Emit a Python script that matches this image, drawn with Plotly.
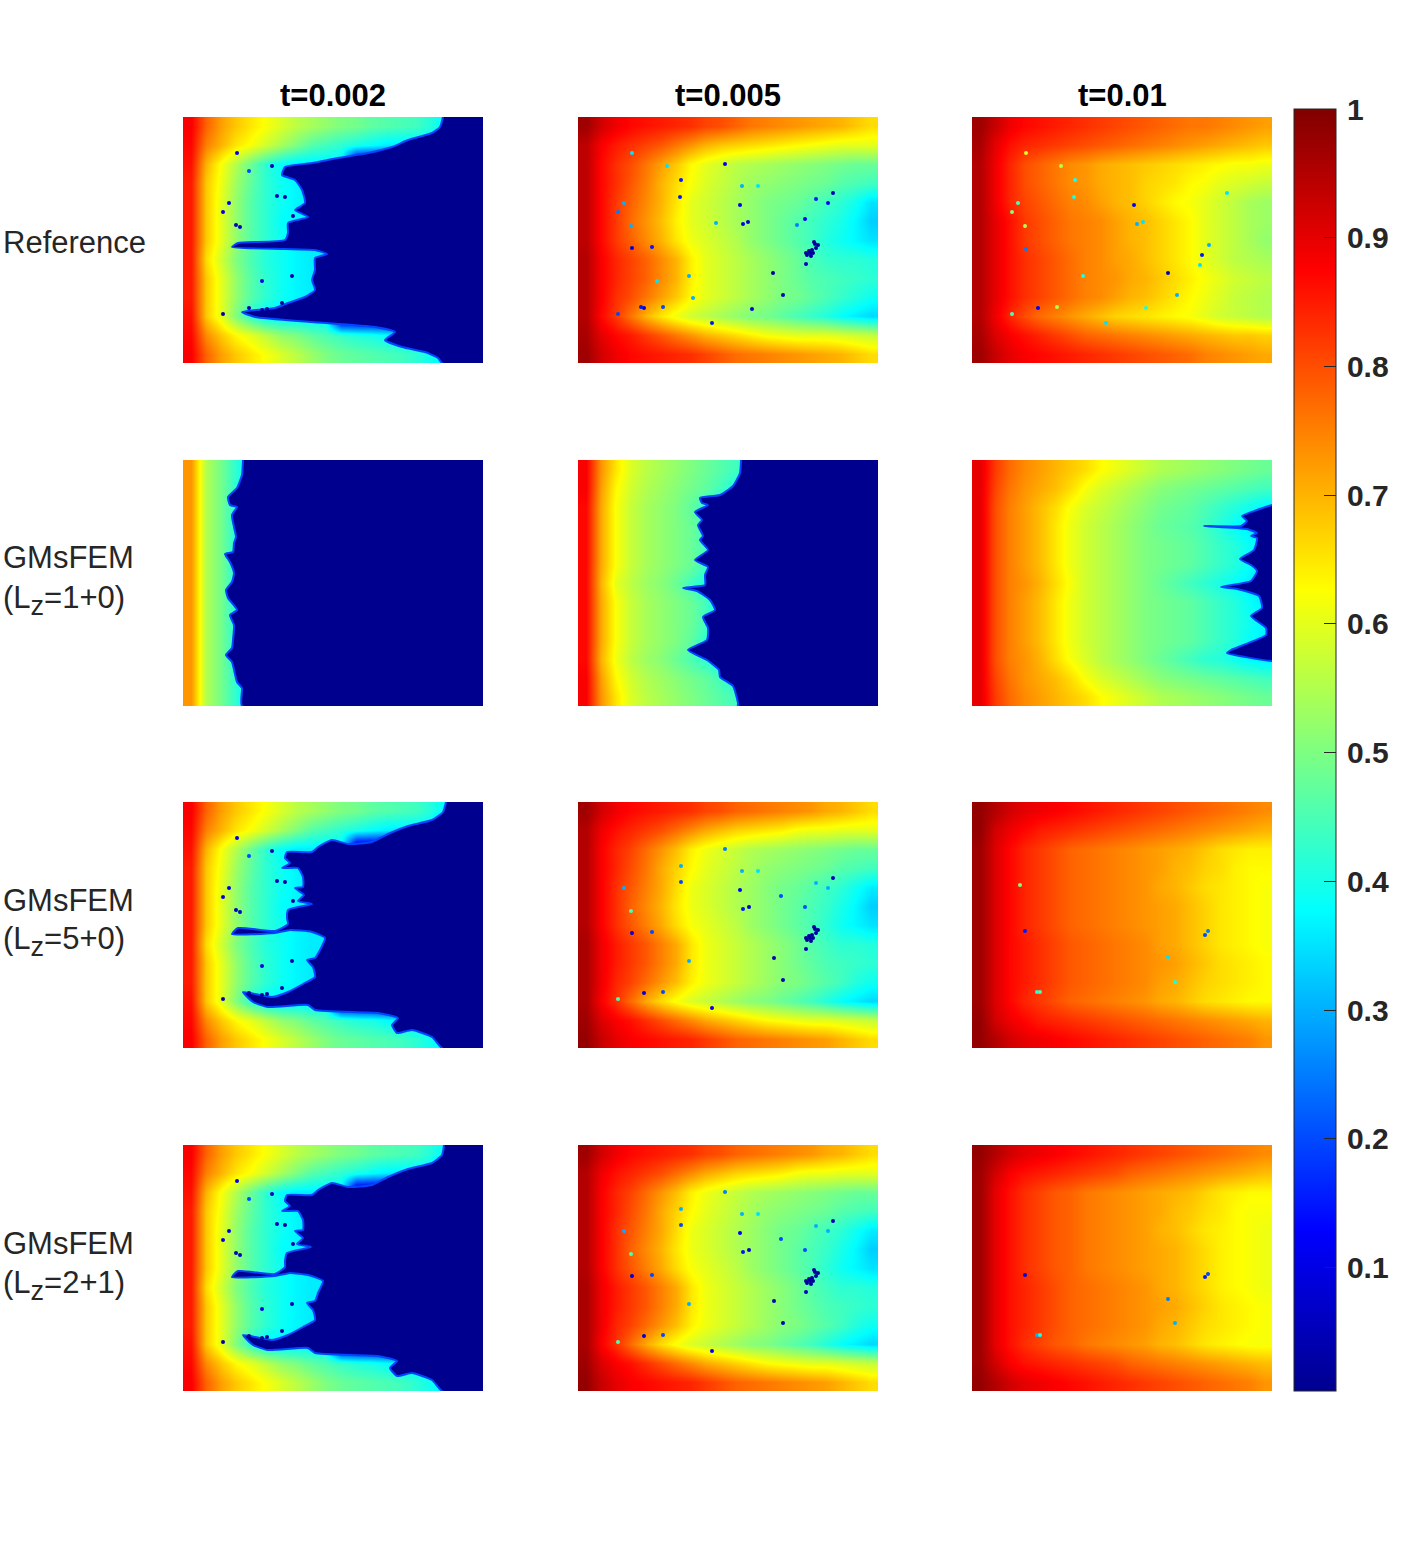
import plotly.graph_objects as go

W, H = 1406, 1563

Z_SUB = '<sub><span style="font-size:27px">z</span></sub>'
row_names = [['Reference'], ['GMsFEM', f'(L{Z_SUB}=1+0)'], ['GMsFEM', f'(L{Z_SUB}=5+0)'], ['GMsFEM', f'(L{Z_SUB}=2+1)']]
col_names = ['t=0.002', 't=0.005', 't=0.01']
cbar_ticks = [0.1, 0.2, 0.3, 0.4, 0.5, 0.6, 0.7, 0.8, 0.9, 1]

# field values, in hundredths, top row first
fine_t002 = [
    [88, 78, 72, 68, 65, 62, 59, 56, 54, 52, 50, 49, 47, 46, 45, 44, 41, 37, 36, 0],
    [87, 75, 70, 65, 62, 58, 54, 50, 46, 44, 42, 40, 38, 36, 36, 36, 36, 0, 0, 0],
    [86, 70, 62, 55, 48, 42, 38, 36, 36, 36, 36, 0, 0, 0, 0, 0, 0, 0, 0, 0],
    [85, 68, 61, 53, 47, 42, 39, 37, 36, 36, 36, 0, 0, 0, 0, 0, 0, 0, 0, 0],
    [85, 68, 60, 52, 46, 42, 39, 37, 36, 36, 36, 0, 0, 0, 0, 0, 0, 0, 0, 0],
    [85, 68, 60, 52, 46, 42, 38, 37, 36, 36, 36, 0, 0, 0, 0, 0, 0, 0, 0, 0],
    [85, 68, 60, 52, 46, 42, 39, 37, 36, 36, 0, 0, 0, 0, 0, 0, 0, 0, 0, 0],
    [85, 66, 58, 50, 45, 41, 39, 37, 36, 36, 36, 36, 0, 0, 0, 0, 0, 0, 0, 0],
    [85, 68, 60, 52, 46, 42, 39, 37, 36, 36, 36, 0, 0, 0, 0, 0, 0, 0, 0, 0],
    [85, 68, 60, 52, 46, 42, 39, 37, 36, 36, 36, 0, 0, 0, 0, 0, 0, 0, 0, 0],
    [86, 68, 60, 50, 42, 37, 36, 36, 36, 36, 0, 0, 0, 0, 0, 0, 0, 0, 0, 0],
    [87, 74, 68, 63, 60, 56, 52, 50, 47, 45, 43, 41, 40, 38, 36, 36, 36, 0, 0, 0],
    [88, 78, 72, 68, 65, 62, 59, 56, 53, 50, 48, 47, 46, 45, 44, 42, 39, 36, 36, 0],
]
ref_t005 = [
    [97, 92, 89, 87, 86, 85, 84, 83, 81, 80, 78, 76, 75, 74, 73, 72, 71, 70, 68, 66],
    [94, 88, 85, 83, 81, 79, 76, 73, 70, 68, 67, 66, 65, 64, 63, 62, 61, 60, 60, 60],
    [94, 87, 83, 80, 76, 72, 68, 63, 60, 58, 56, 55, 54, 53, 52, 51, 50, 49, 48, 48],
    [94, 87, 83, 79, 75, 70, 66, 62, 59, 57, 55, 53, 52, 51, 50, 49, 48, 46, 45, 44],
    [94, 87, 82, 78, 74, 70, 65, 60, 58, 56, 54, 52, 50, 49, 48, 46, 44, 42, 39, 35],
    [94, 87, 82, 77, 73, 69, 64, 60, 58, 56, 54, 52, 50, 48, 46, 44, 42, 40, 37, 33],
    [94, 87, 82, 78, 74, 70, 65, 61, 59, 57, 55, 52, 50, 48, 46, 44, 41, 39, 37, 35],
    [95, 88, 84, 81, 78, 74, 70, 64, 60, 58, 56, 54, 52, 50, 48, 45, 43, 42, 42, 41],
    [95, 88, 84, 81, 78, 74, 70, 64, 60, 58, 56, 54, 52, 50, 48, 46, 45, 44, 43, 42],
    [95, 88, 83, 80, 76, 72, 68, 63, 60, 58, 56, 54, 52, 50, 49, 47, 45, 43, 41, 39],
    [95, 87, 82, 76, 70, 65, 61, 58, 56, 54, 52, 50, 49, 47, 45, 43, 41, 38, 36, 34],
    [96, 90, 87, 85, 82, 79, 76, 73, 70, 68, 66, 64, 62, 61, 60, 60, 60, 59, 58, 57],
    [97, 92, 89, 87, 86, 85, 84, 83, 81, 79, 77, 76, 75, 74, 73, 72, 71, 70, 68, 66],
]
gms_t005 = [
    [97, 92, 89, 87, 86, 85, 84, 83, 81, 80, 78, 77, 76, 75, 74, 73, 71, 70, 68, 66],
    [95, 89, 86, 84, 82, 80, 77, 74, 71, 69, 67, 66, 65, 64, 62, 61, 61, 60, 60, 60],
    [95, 88, 84, 81, 77, 73, 69, 64, 61, 59, 57, 55, 54, 53, 52, 51, 50, 49, 48, 48],
    [95, 88, 84, 80, 76, 71, 67, 63, 60, 58, 56, 54, 52, 51, 50, 49, 48, 46, 45, 44],
    [95, 88, 83, 79, 75, 71, 66, 61, 59, 57, 55, 53, 51, 49, 48, 46, 44, 42, 39, 36],
    [95, 88, 83, 78, 74, 70, 65, 61, 59, 57, 55, 53, 51, 49, 47, 45, 43, 40, 37, 33],
    [95, 88, 83, 79, 75, 71, 66, 62, 60, 58, 56, 53, 51, 49, 47, 45, 42, 39, 37, 35],
    [96, 89, 85, 82, 79, 75, 71, 65, 61, 59, 57, 55, 53, 51, 49, 46, 44, 42, 42, 41],
    [96, 89, 85, 82, 79, 75, 71, 65, 61, 59, 57, 55, 53, 51, 49, 47, 45, 44, 43, 42],
    [96, 89, 84, 81, 77, 73, 69, 64, 61, 59, 57, 55, 53, 51, 50, 48, 46, 44, 41, 39],
    [96, 88, 83, 77, 71, 66, 62, 59, 57, 55, 53, 51, 50, 48, 46, 44, 41, 38, 36, 34],
    [97, 91, 88, 86, 83, 80, 77, 74, 71, 69, 67, 65, 63, 62, 61, 60, 60, 59, 58, 57],
    [98, 93, 90, 88, 87, 86, 85, 84, 82, 80, 78, 77, 76, 75, 74, 73, 72, 70, 68, 66],
]
ref_t01 = [
    [97, 93, 89, 87, 86, 85, 84, 83, 82, 81, 80, 79, 78, 77, 76, 76, 75, 74, 73, 72],
    [96, 90, 86, 84, 83, 82, 81, 80, 79, 78, 77, 76, 75, 74, 73, 72, 71, 70, 69, 68],
    [95, 89, 84, 80, 78, 76, 74, 73, 71, 70, 69, 68, 67, 66, 65, 64, 63, 62, 62, 61],
    [95, 89, 84, 80, 78, 76, 74, 73, 71, 70, 69, 67, 66, 65, 63, 62, 60, 59, 58, 57],
    [95, 89, 84, 81, 79, 77, 75, 74, 72, 70, 69, 67, 65, 63, 62, 60, 58, 56, 54, 53],
    [95, 90, 86, 82, 80, 78, 76, 75, 74, 72, 70, 69, 67, 65, 63, 60, 58, 56, 54, 53],
    [95, 90, 86, 82, 80, 78, 76, 75, 74, 72, 70, 69, 67, 65, 63, 60, 58, 56, 54, 52],
    [95, 90, 86, 83, 81, 79, 77, 75, 74, 72, 71, 69, 67, 65, 63, 60, 58, 56, 55, 54],
    [95, 90, 86, 83, 81, 79, 77, 75, 74, 73, 71, 70, 68, 66, 64, 62, 60, 58, 57, 56],
    [95, 90, 86, 83, 81, 79, 77, 75, 74, 72, 70, 69, 67, 65, 63, 61, 59, 57, 56, 55],
    [95, 89, 84, 80, 77, 75, 73, 71, 69, 67, 66, 65, 64, 63, 62, 60, 58, 57, 56, 55],
    [96, 91, 88, 86, 84, 82, 80, 78, 77, 76, 75, 74, 73, 72, 71, 70, 69, 68, 68, 67],
    [97, 93, 90, 88, 87, 86, 85, 84, 83, 82, 81, 80, 79, 78, 77, 75, 74, 73, 72, 71],
]
l1_t002 = [
    [73, 55, 49, 42, 36, 36, 0, 0, 0, 0, 0, 0, 0, 0, 0, 0, 0, 0, 0, 0],
    [73, 55, 49, 42, 36, 36, 0, 0, 0, 0, 0, 0, 0, 0, 0, 0, 0, 0, 0, 0],
    [73, 55, 49, 41, 36, 36, 0, 0, 0, 0, 0, 0, 0, 0, 0, 0, 0, 0, 0, 0],
    [73, 55, 49, 41, 36, 36, 0, 0, 0, 0, 0, 0, 0, 0, 0, 0, 0, 0, 0, 0],
    [73, 55, 49, 41, 36, 36, 0, 0, 0, 0, 0, 0, 0, 0, 0, 0, 0, 0, 0, 0],
    [73, 55, 49, 41, 36, 36, 0, 0, 0, 0, 0, 0, 0, 0, 0, 0, 0, 0, 0, 0],
    [73, 55, 49, 41, 36, 36, 0, 0, 0, 0, 0, 0, 0, 0, 0, 0, 0, 0, 0, 0],
    [73, 55, 49, 41, 36, 36, 0, 0, 0, 0, 0, 0, 0, 0, 0, 0, 0, 0, 0, 0],
    [73, 55, 49, 41, 36, 36, 0, 0, 0, 0, 0, 0, 0, 0, 0, 0, 0, 0, 0, 0],
    [73, 55, 49, 41, 36, 36, 0, 0, 0, 0, 0, 0, 0, 0, 0, 0, 0, 0, 0, 0],
    [73, 55, 49, 41, 36, 36, 0, 0, 0, 0, 0, 0, 0, 0, 0, 0, 0, 0, 0, 0],
    [73, 55, 49, 42, 36, 36, 0, 0, 0, 0, 0, 0, 0, 0, 0, 0, 0, 0, 0, 0],
    [73, 55, 49, 42, 36, 36, 0, 0, 0, 0, 0, 0, 0, 0, 0, 0, 0, 0, 0, 0],
]
l1_t005 = [
    [88, 73, 65, 59, 56, 54, 52, 50, 48, 46, 44, 40, 36, 36, 0, 0, 0, 0, 0, 0],
    [88, 72, 63, 58, 55, 53, 51, 49, 47, 44, 40, 36, 36, 0, 0, 0, 0, 0, 0, 0],
    [87, 71, 62, 57, 54, 52, 50, 47, 43, 37, 36, 36, 0, 0, 0, 0, 0, 0, 0, 0],
    [87, 71, 62, 57, 54, 52, 50, 48, 44, 38, 36, 36, 0, 0, 0, 0, 0, 0, 0, 0],
    [87, 71, 62, 57, 54, 52, 50, 48, 44, 38, 36, 36, 0, 0, 0, 0, 0, 0, 0, 0],
    [87, 71, 62, 57, 54, 52, 50, 48, 44, 38, 36, 36, 0, 0, 0, 0, 0, 0, 0, 0],
    [87, 70, 60, 56, 53, 51, 48, 44, 40, 36, 36, 36, 0, 0, 0, 0, 0, 0, 0, 0],
    [87, 71, 62, 57, 54, 52, 50, 48, 44, 38, 36, 36, 0, 0, 0, 0, 0, 0, 0, 0],
    [87, 71, 62, 57, 54, 52, 50, 48, 44, 38, 36, 36, 0, 0, 0, 0, 0, 0, 0, 0],
    [87, 71, 62, 57, 54, 52, 50, 47, 42, 37, 36, 36, 0, 0, 0, 0, 0, 0, 0, 0],
    [87, 70, 61, 56, 53, 51, 48, 45, 42, 38, 36, 36, 0, 0, 0, 0, 0, 0, 0, 0],
    [88, 72, 63, 58, 55, 53, 51, 49, 47, 44, 40, 36, 36, 0, 0, 0, 0, 0, 0, 0],
    [88, 73, 65, 59, 56, 54, 52, 50, 48, 46, 44, 38, 36, 36, 0, 0, 0, 0, 0, 0],
]
l1_t01 = [
    [90, 82, 77, 74, 72, 70, 68, 66, 63, 61, 59, 57, 55, 54, 53, 52, 51, 50, 49, 48],
    [90, 81, 76, 73, 71, 69, 66, 62, 59, 57, 55, 53, 51, 50, 49, 48, 47, 46, 45, 44],
    [90, 80, 75, 72, 69, 66, 62, 59, 57, 55, 53, 51, 49, 48, 47, 45, 43, 41, 39, 37],
    [90, 80, 75, 72, 69, 65, 61, 58, 56, 54, 52, 50, 48, 47, 46, 44, 41, 38, 36, 36],
    [90, 80, 75, 72, 69, 65, 61, 58, 56, 54, 52, 50, 49, 48, 47, 45, 43, 41, 38, 36],
    [90, 80, 75, 72, 69, 65, 61, 58, 56, 54, 52, 50, 49, 48, 47, 45, 43, 41, 38, 36],
    [90, 80, 75, 73, 70, 66, 62, 58, 56, 54, 52, 50, 48, 46, 44, 42, 40, 38, 36, 36],
    [90, 80, 75, 72, 69, 65, 61, 58, 56, 54, 52, 50, 49, 48, 47, 45, 43, 41, 38, 36],
    [90, 80, 75, 72, 69, 65, 61, 58, 56, 54, 52, 50, 49, 48, 47, 45, 43, 41, 39, 37],
    [90, 80, 75, 72, 69, 65, 61, 58, 56, 54, 52, 50, 49, 48, 47, 45, 43, 41, 38, 36],
    [90, 80, 75, 73, 70, 66, 62, 59, 56, 54, 52, 50, 48, 46, 44, 42, 41, 39, 37, 36],
    [90, 81, 76, 73, 71, 69, 66, 62, 59, 57, 55, 53, 51, 50, 49, 48, 47, 46, 45, 44],
    [90, 82, 77, 74, 72, 70, 68, 66, 63, 61, 59, 57, 55, 54, 53, 52, 51, 50, 49, 48],
]
l5_t01 = [
    [98, 95, 92, 90, 89, 88, 87, 86, 85, 84, 83, 82, 81, 80, 79, 78, 77, 76, 75, 74],
    [98, 92, 89, 87, 85, 84, 83, 82, 81, 80, 79, 78, 77, 76, 75, 74, 73, 72, 71, 70],
    [97, 91, 87, 84, 82, 80, 78, 77, 76, 75, 74, 73, 72, 71, 70, 68, 66, 65, 64, 64],
    [97, 91, 87, 84, 82, 80, 78, 77, 76, 75, 74, 73, 72, 70, 69, 67, 66, 64, 63, 63],
    [97, 91, 87, 84, 82, 80, 78, 77, 76, 75, 74, 73, 71, 70, 68, 66, 65, 64, 63, 62],
    [97, 91, 87, 84, 82, 80, 78, 77, 76, 75, 74, 73, 72, 71, 69, 67, 65, 64, 63, 62],
    [97, 91, 87, 84, 82, 80, 78, 77, 76, 75, 74, 73, 72, 71, 69, 67, 65, 64, 63, 62],
    [97, 91, 87, 85, 83, 81, 79, 78, 77, 76, 75, 74, 72, 71, 69, 67, 65, 64, 63, 62],
    [97, 91, 87, 85, 83, 81, 79, 78, 77, 76, 75, 74, 73, 72, 70, 68, 66, 65, 64, 63],
    [97, 91, 87, 85, 83, 81, 79, 78, 77, 76, 75, 74, 72, 71, 69, 67, 66, 65, 64, 63],
    [97, 91, 87, 84, 82, 80, 78, 77, 76, 75, 74, 73, 71, 70, 68, 66, 65, 64, 63, 63],
    [98, 92, 89, 87, 85, 84, 83, 82, 81, 80, 79, 78, 77, 76, 75, 74, 73, 72, 71, 70],
    [98, 95, 92, 90, 89, 88, 87, 86, 85, 84, 83, 82, 81, 80, 79, 78, 77, 76, 75, 73],
]
l2_t01 = [
    [98, 95, 92, 90, 89, 88, 87, 86, 85, 84, 83, 82, 81, 80, 79, 78, 77, 76, 75, 74],
    [97, 92, 88, 86, 85, 84, 83, 82, 81, 80, 78, 77, 76, 75, 74, 73, 72, 71, 70, 69],
    [97, 90, 86, 83, 81, 79, 78, 76, 75, 74, 73, 72, 71, 70, 69, 67, 65, 64, 63, 63],
    [97, 90, 86, 83, 81, 79, 78, 76, 75, 74, 73, 72, 71, 69, 68, 66, 65, 63, 62, 62],
    [97, 90, 86, 83, 81, 79, 78, 76, 75, 74, 73, 72, 70, 69, 67, 65, 64, 63, 62, 61],
    [97, 90, 86, 83, 81, 79, 78, 76, 75, 74, 73, 72, 71, 70, 68, 66, 64, 63, 62, 61],
    [97, 90, 86, 83, 81, 79, 78, 76, 75, 74, 73, 72, 71, 70, 68, 66, 64, 63, 62, 61],
    [97, 90, 86, 84, 82, 80, 78, 77, 76, 75, 74, 73, 71, 70, 68, 66, 64, 63, 62, 61],
    [97, 90, 86, 84, 82, 80, 78, 77, 76, 75, 74, 73, 72, 71, 69, 67, 65, 64, 63, 62],
    [97, 90, 86, 84, 82, 80, 78, 77, 76, 75, 74, 73, 71, 70, 68, 66, 65, 64, 63, 62],
    [97, 90, 86, 83, 81, 79, 78, 76, 75, 74, 73, 72, 70, 69, 67, 65, 64, 63, 62, 62],
    [97, 92, 88, 86, 85, 84, 83, 82, 81, 80, 78, 77, 76, 75, 74, 73, 72, 71, 70, 69],
    [98, 95, 92, 90, 89, 88, 87, 86, 85, 84, 83, 82, 81, 80, 79, 78, 77, 76, 75, 73],
]

# where the navy zone starts, along each panel (panel width 300, height 246)
ref_front_x = [260, 257, 249, 225, 209, 185, 155, 129, 102, 99, 112, 119, 122, 112, 125, 105, 105, 102, 55, 49, 102, 132, 144, 132, 132, 129, 132, 122, 105, 92, 59, 72, 129, 192, 212, 202, 219, 242, 255, 259]
ref_front_y = [0, 10, 16, 23, 30, 36, 41, 46, 50, 58, 63, 73, 86, 93, 100, 106, 116, 123, 126, 130, 132, 133, 137, 141, 153, 163, 173, 180, 186, 191, 195, 200, 205, 210, 215, 223, 230, 235, 241, 246]
l5_front_x = [263, 260, 249, 225, 205, 189, 165, 149, 135, 129, 104, 102, 107, 99, 115, 120, 120, 112, 121, 115, 129, 105, 104, 105, 92, 55, 49, 92, 107, 129, 142, 137, 132, 124, 130, 132, 120, 105, 89, 60, 70, 85, 125, 132, 195, 215, 209, 214, 229, 249, 259]
l2_front_x = [261, 259, 249, 225, 205, 189, 165, 149, 135, 129, 104, 102, 107, 99, 115, 120, 120, 112, 120, 114, 128, 104, 102, 102, 92, 55, 49, 92, 107, 125, 140, 135, 132, 124, 130, 132, 120, 105, 89, 60, 70, 85, 125, 132, 195, 214, 207, 214, 229, 249, 259]
gms_front_y = [0, 10, 18, 24, 32, 40, 42, 38, 45, 50, 50, 56, 61, 66, 66, 75, 85, 86, 93, 99, 102, 108, 116, 122, 129, 126, 132, 131, 128, 130, 136, 148, 156, 158, 165, 175, 182, 190, 195, 190, 200, 205, 203, 208, 211, 216, 223, 231, 228, 235, 246]
l1_t002_front_x = [60, 59, 54, 45, 47, 54, 49, 51, 53, 51, 50, 42, 47, 51, 49, 43, 45, 54, 47, 51, 50, 49, 43, 49, 54, 59, 59]
l1_t002_front_y = [0, 15, 28, 37, 45, 47, 55, 67, 77, 83, 92, 94, 102, 113, 122, 130, 138, 150, 155, 165, 180, 188, 195, 202, 222, 228, 246]
l1_t005_front_x = [163, 162, 155, 142, 122, 124, 130, 117, 124, 120, 125, 122, 130, 117, 130, 127, 127, 105, 119, 132, 137, 125, 130, 129, 110, 129, 141, 142, 155, 160, 160]
l1_t005_front_y = [0, 13, 26, 35, 38, 43, 45, 52, 60, 65, 76, 80, 90, 100, 107, 115, 125, 128, 131, 140, 150, 157, 168, 180, 190, 200, 210, 217, 226, 243, 246]
l1_t01_front_x = [300, 285, 270, 275, 269, 232, 275, 285, 279, 285, 282, 268, 279, 285, 279, 249, 265, 287, 290, 279, 294, 294, 259, 255, 299]
l1_t01_front_y = [45, 50, 56, 61, 66, 66, 69, 73, 76, 78, 90, 99, 105, 111, 121, 127, 129, 136, 148, 156, 168, 175, 190, 193, 201]

# small pockets of low value: x, y, value
t002_spot_x = [54, 89, 46, 40, 53, 57, 94, 102, 110, 109, 79, 66, 40, 66, 79, 84, 99]
t002_spot_y = [36, 49, 86, 95, 108, 110, 79, 80, 99, 159, 164, 54, 197, 191, 193, 192, 186]
t002_spot_v = [0.1, 0.05, 0.1, 0.1, 0.05, 0.05, 0.05, 0.03, 0.03, 0.03, 0.1, 0.2, 0.03, 0.03, 0.03, 0.03, 0.03]
ref_t005_spot_x = [54, 54, 89, 103, 102, 46, 40, 53, 74, 40, 66, 63, 85, 147, 162, 170, 165, 227, 219, 238, 255, 250, 237, 238, 234, 232, 229, 233, 228, 195, 205, 174, 134, 115, 111, 79, 138, 164, 180, 236, 240, 231, 228, 235]
ref_t005_spot_y = [131, 36, 49, 63, 80, 86, 95, 109, 130, 197, 191, 190, 190, 47, 88, 105, 107, 102, 108, 82, 76, 86, 127, 131, 133, 136, 138, 139, 147, 156, 178, 192, 206, 181, 159, 164, 106, 69, 69, 125, 128, 134, 136, 136]
ref_t005_spot_v = [0.08, 0.35, 0.35, 0.15, 0.15, 0.3, 0.25, 0.3, 0.15, 0.2, 0.08, 0.15, 0.2, 0.1, 0.1, 0.08, 0.1, 0.12, 0.25, 0.15, 0.05, 0.12, 0.02, 0.02, 0.02, 0.02, 0.02, 0.02, 0.05, 0.03, 0.05, 0.08, 0.15, 0.3, 0.3, 0.35, 0.3, 0.3, 0.35, 0.02, 0.02, 0.02, 0.02, 0.02]
gms_t005_spot_x = [54, 46, 53, 74, 40, 66, 85, 147, 162, 171, 165, 227, 238, 255, 250, 237, 238, 234, 232, 229, 233, 228, 196, 205, 134, 103, 103, 111, 164, 180, 203, 236, 240, 231, 228, 235]
gms_t005_spot_y = [131, 86, 109, 130, 197, 191, 190, 47, 88, 105, 107, 105, 81, 76, 86, 127, 131, 133, 136, 138, 139, 147, 156, 178, 206, 80, 64, 159, 69, 69, 94, 125, 128, 134, 136, 136]
gms_t005_spot_v = [0.08, 0.3, 0.45, 0.2, 0.45, 0.08, 0.2, 0.25, 0.12, 0.08, 0.15, 0.2, 0.3, 0.05, 0.3, 0.02, 0.02, 0.02, 0.02, 0.02, 0.02, 0.05, 0.05, 0.05, 0.12, 0.2, 0.3, 0.3, 0.3, 0.35, 0.2, 0.02, 0.02, 0.02, 0.02, 0.02]
ref_t01_spot_x = [54, 54, 89, 103, 102, 46, 40, 53, 40, 66, 85, 162, 171, 165, 196, 205, 174, 230, 237, 228, 255, 134, 111]
ref_t01_spot_y = [132, 36, 49, 63, 80, 86, 95, 109, 197, 191, 190, 88, 105, 107, 156, 178, 191, 138, 128, 148, 76, 206, 159]
ref_t01_spot_v = [0.25, 0.6, 0.55, 0.4, 0.4, 0.45, 0.5, 0.55, 0.45, 0.12, 0.55, 0.12, 0.35, 0.3, 0.05, 0.3, 0.4, 0.15, 0.3, 0.35, 0.35, 0.35, 0.4]
l5_t01_spot_x = [53, 233, 236, 48, 196, 203, 65, 68]
l5_t01_spot_y = [129, 133, 129, 83, 155, 180, 190, 190]
l5_t01_spot_v = [0.15, 0.2, 0.25, 0.5, 0.35, 0.4, 0.4, 0.45]
l2_t01_spot_x = [53, 233, 236, 196, 203, 65, 68]
l2_t01_spot_y = [130, 132, 129, 154, 178, 190, 190]
l2_t01_spot_v = [0.1, 0.15, 0.2, 0.25, 0.3, 0.3, 0.4]

panels = [
    [fine_t002, ref_t005, ref_t01],
    [l1_t002, l1_t005, l1_t01],
    [fine_t002, gms_t005, l5_t01],
    [fine_t002, gms_t005, l2_t01],
]
fronts = [
    [(ref_front_x, ref_front_y), None, None],
    [(l1_t002_front_x, l1_t002_front_y), (l1_t005_front_x, l1_t005_front_y), (l1_t01_front_x, l1_t01_front_y)],
    [(l5_front_x, gms_front_y), None, None],
    [(l2_front_x, gms_front_y), None, None],
]
spots = [
    [(t002_spot_x, t002_spot_y, t002_spot_v), (ref_t005_spot_x, ref_t005_spot_y, ref_t005_spot_v), (ref_t01_spot_x, ref_t01_spot_y, ref_t01_spot_v)],
    [None, None, None],
    [(t002_spot_x, t002_spot_y, t002_spot_v), (gms_t005_spot_x, gms_t005_spot_y, gms_t005_spot_v), (l5_t01_spot_x, l5_t01_spot_y, l5_t01_spot_v)],
    [(t002_spot_x, t002_spot_y, t002_spot_v), (gms_t005_spot_x, gms_t005_spot_y, gms_t005_spot_v), (l2_t01_spot_x, l2_t01_spot_y, l2_t01_spot_v)],
]

# matlab jet
jet = [[0, 'rgb(0,0,143)'], [0.125, 'rgb(0,0,255)'], [0.375, 'rgb(0,255,255)'],
       [0.625, 'rgb(255,255,0)'], [0.875, 'rgb(255,0,0)'], [1, 'rgb(128,0,0)']]

# pixel boxes of the panels
col_left = [183, 578, 972]
row_top = [117, 460, 802, 1145]
panel_w, panel_h = 300, 246

FONT = 'Liberation Sans, Arial, sans-serif'
TEXT = '#262626'

xs = [(i + 0.5) * panel_w / 20 for i in range(20)]
ys = [(i + 0.5) * panel_h / 13 for i in range(13)]

fig = go.Figure()
n = 0
for r in range(4):
    for c in range(3):
        n += 1
        z = [[v / 100 for v in row] for row in panels[r][c]]
        fig.add_trace(go.Heatmap(x=xs, y=ys, z=z, coloraxis='coloraxis', zsmooth='best',
                                 xaxis=f'x{n}', yaxis=f'y{n}', hoverinfo='skip'))
        if fronts[r][c]:
            fx, fy = fronts[r][c]
            top = fy[0] - 10 if fy[0] == 0 else fy[0]
            bottom = fy[-1] + 10 if fy[-1] == panel_h else fy[-1]
            fig.add_trace(go.Scatter(x=list(fx) + [310, 310], y=list(fy) + [bottom, top],
                                     mode='lines', fill='toself', fillcolor='rgb(0,0,143)',
                                     line=dict(color='rgb(0,70,255)', width=2, shape='spline', smoothing=0.5),
                                     xaxis=f'x{n}', yaxis=f'y{n}', hoverinfo='skip'))
        if spots[r][c]:
            sx, sy, sv = spots[r][c]
            fig.add_trace(go.Scatter(x=sx, y=sy, mode='markers',
                                     marker=dict(color=sv, coloraxis='coloraxis', size=4, line_width=0),
                                     xaxis=f'x{n}', yaxis=f'y{n}', hoverinfo='skip'))
        x0 = col_left[c] / W
        x1 = (col_left[c] + panel_w) / W
        y0 = 1 - (row_top[r] + panel_h) / H
        y1 = 1 - row_top[r] / H
        fig.update_layout({
            f'xaxis{n}': dict(domain=[x0, x1], visible=False, anchor=f'y{n}', range=[0, panel_w]),
            f'yaxis{n}': dict(domain=[y0, y1], visible=False, anchor=f'x{n}', range=[panel_h, 0]),
        })

for c, name in enumerate(col_names):
    fig.add_annotation(text=f'<b>{name}</b>', xref='paper', yref='paper', showarrow=False,
                       x=(col_left[c] + panel_w / 2) / W, y=1 - 95 / H,
                       xanchor='center', yanchor='middle',
                       font=dict(family=FONT, size=31, color='black'))

label_y = [[243], [558, 600], [900, 942], [1243, 1285]]
for r, lines in enumerate(row_names):
    for line, ypx in zip(lines, label_y[r]):
        fig.add_annotation(text=line, xref='paper', yref='paper', showarrow=False,
                           x=1 / W, y=1 - ypx / H, xanchor='left', yanchor='middle',
                           font=dict(family=FONT, size=31, color=TEXT))

fig.update_layout(
    width=W, height=H, margin=dict(l=0, r=0, t=0, b=0),
    paper_bgcolor='white', plot_bgcolor='white', showlegend=False,
    coloraxis=dict(
        cmin=0.004, cmax=1, colorscale=jet,
        colorbar=dict(
            x=1294 / W, xanchor='left', xpad=0,
            y=1 - 1391 / H, yanchor='bottom', ypad=0,
            len=1282 / H, lenmode='fraction',
            thickness=42, thicknessmode='pixels',
            outlinecolor=TEXT, outlinewidth=1,
            tickvals=cbar_ticks,
            ticktext=[f'<span style="font-size:14px">\u00a0</span>{t}' for t in cbar_ticks],
            ticks='inside', ticklen=12, tickwidth=1, tickcolor=TEXT,
            tickfont=dict(family=FONT, size=30, color=TEXT, weight='bold'),
        ),
    ),
)

fig.write_html("out.html", config={'displayModeBar': False},
               post_script="document.body.style.margin='0';")
